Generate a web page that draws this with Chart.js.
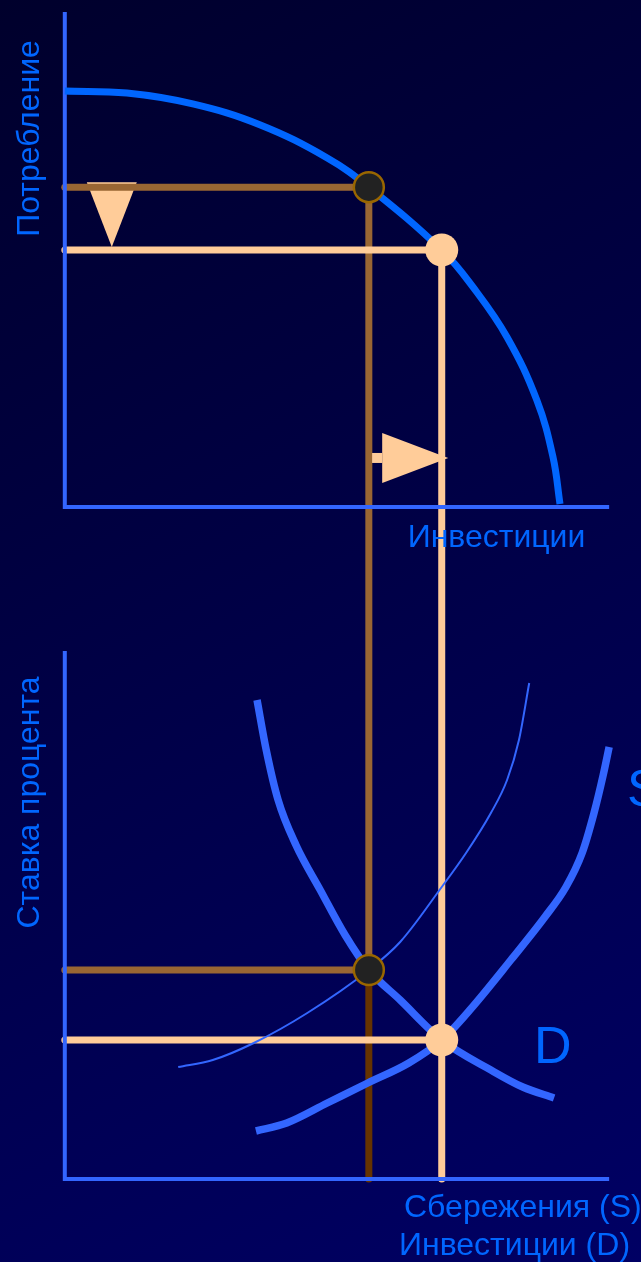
<!DOCTYPE html>
<html>
<head>
<meta charset="utf-8">
<script src="https://cdn.jsdelivr.net/npm/chart.js@4.4.1/dist/chart.umd.min.js"></script>
<style>
  html, body { margin: 0; padding: 0; background: #000040; }
  #wrap { width: 641px; height: 1262px; }
</style>
</head>
<body>
<div id="wrap"><canvas id="chart" width="641" height="1262"></canvas></div>
<script>
// levels: x = investment, top y = consumption, bottom y = interest rate
const investLevels = [5.63, 6.98];
const consumptionLevels = [6.46, 5.19];
const rateLevels = [4.18, 2.78];

// production possibilities curve (top panel)
const ppfX = [0, 1.15, 2.37, 3.61, 4.86, 5.63, 6.98, 7.56, 8.19, 8.74, 9.04, 9.17];
const ppfY = [8.40, 8.36, 8.14, 7.72, 7.05, 6.46, 5.19, 4.44, 3.43, 2.16, 1.01, 0.06];

// investment demand D (bottom panel)
const demandX = [3.56, 3.73, 3.95, 4.28, 4.73, 5.19, 5.63, 6.21, 6.98, 7.89, 8.48, 9.06];
const demandY = [9.58, 8.58, 7.58, 6.68, 5.78, 4.88, 4.18, 3.58, 2.78, 2.18, 1.84, 1.62];

// savings S after the shift
const savingX = [3.54, 4.11, 4.86, 5.61, 6.37, 6.98, 7.50, 8.26, 8.89, 9.28, 9.58, 9.80, 9.97, 10.08];
const savingY = [0.96, 1.12, 1.52, 1.92, 2.32, 2.78, 3.38, 4.38, 5.24, 5.84, 6.52, 7.32, 8.08, 8.64];

// savings before the shift (thin line)
const savingOldX = [2.10, 2.74, 3.50, 4.49, 5.63, 6.21, 6.98, 7.43, 7.89, 8.19, 8.41, 8.60];
const savingOldY = [2.24, 2.38, 2.72, 3.32, 4.18, 4.74, 5.84, 6.52, 7.32, 7.98, 8.78, 9.92];

// axis extents
const topAxisX = [0, 0, 10.08];
const topAxisY = [10.0, 0, 0];
const botAxisX = [0, 0, 10.08];
const botAxisY = [10.56, 0, 0];

// shift arrows: consumption goes down, investment goes up
const consArrow = { x: 0.87, from: 6.56, to: 5.25 };
const investArrow = { y: 0.99, from: 5.69, to: 7.10 };

const BROWN = '#996633';
const DARK_BROWN = '#663300';
const BEIGE = '#FFCC99';
const AXIS = '#3366FF';
const PPF = '#0066FF';
const TEXT = '#0066FF';

const pts = (xs, ys) => xs.map((x, i) => ({ x: x, y: ys[i] }));

function lineSet(data, axis, color, width, order, extra) {
    return Object.assign({
        data: data,
        yAxisID: axis,
        showLine: true,
        borderColor: color,
        borderWidth: width,
        pointRadius: 0,
        fill: false,
        order: order
    }, extra || {});
}

function pointSet(data, axis, fillColor, borderColor, radius, borderWidth) {
    return {
        data: data,
        yAxisID: axis,
        showLine: false,
        pointRadius: radius,
        pointBackgroundColor: fillColor,
        pointBorderColor: borderColor,
        pointBorderWidth: borderWidth,
        order: 1
    };
}

const guideColors = [BROWN, BEIGE];
const datasets = [];

// horizontal guides from the axes to each point
investLevels.forEach((inv, i) => {
    datasets.push(lineSet([{ x: 0, y: consumptionLevels[i] }, { x: inv, y: consumptionLevels[i] }],
        'yTop', guideColors[i], 7, 60, { borderCapStyle: 'round' }));
    datasets.push(lineSet([{ x: 0, y: rateLevels[i] }, { x: inv, y: rateLevels[i] }],
        'yBot', guideColors[i], 7, 60, { borderCapStyle: 'round' }));
});

// axes
datasets.push(lineSet(pts(topAxisX, topAxisY), 'yTop', AXIS, 4, 50, { borderJoinStyle: 'miter' }));
datasets.push(lineSet(pts(botAxisX, botAxisY), 'yBot', AXIS, 4, 50, { borderJoinStyle: 'miter' }));

// curves
const smooth = { tension: 0.4 };
const mono = { cubicInterpolationMode: 'monotone' };
datasets.push(lineSet(pts(ppfX, ppfY), 'yTop', PPF, 7, 40, smooth));
datasets.push(lineSet(pts(savingOldX, savingOldY), 'yBot', AXIS, 2, 40, mono));
datasets.push(lineSet(pts(demandX, demandY), 'yBot', AXIS, 7.5, 40, mono));
datasets.push(lineSet(pts(savingX, savingY), 'yBot', AXIS, 7.5, 40, mono));

// equilibrium points
datasets.push(pointSet([{ x: investLevels[0], y: consumptionLevels[0] }], 'yTop', '#222222', '#996600', 15, 2.5));
datasets.push(pointSet([{ x: investLevels[0], y: rateLevels[0] }], 'yBot', '#222222', '#996600', 15, 2.5));
datasets.push(pointSet([{ x: investLevels[1], y: consumptionLevels[1] }], 'yTop', BEIGE, BEIGE, 16.5, 0));
datasets.push(pointSet([{ x: investLevels[1], y: rateLevels[1] }], 'yBot', BEIGE, BEIGE, 16.5, 0));

function drawArrow(ctx, x1, y1, x2, y2) {
    const headLen = 66, headHalf = 25, shaft = 10;
    const dx = x2 - x1, dy = y2 - y1;
    const len = Math.sqrt(dx * dx + dy * dy);
    const ux = dx / len, uy = dy / len;
    const px = -uy, py = ux;
    const hl = Math.min(headLen, len);
    const bx = x2 - ux * hl, by = y2 - uy * hl;
    ctx.fillStyle = BEIGE;
    if (len > hl) {
        ctx.beginPath();
        ctx.moveTo(x1 + px * shaft / 2, y1 + py * shaft / 2);
        ctx.lineTo(bx + px * shaft / 2, by + py * shaft / 2);
        ctx.lineTo(bx - px * shaft / 2, by - py * shaft / 2);
        ctx.lineTo(x1 - px * shaft / 2, y1 - py * shaft / 2);
        ctx.closePath();
        ctx.fill();
    }
    ctx.beginPath();
    ctx.moveTo(x2, y2);
    ctx.lineTo(bx + px * headHalf, by + py * headHalf);
    ctx.lineTo(bx - px * headHalf, by - py * headHalf);
    ctx.closePath();
    ctx.fill();
}

const diagramPlugin = {
    id: 'diagram',
    beforeDraw(chart) {
        const ctx = chart.ctx;
        const g = ctx.createLinearGradient(0, 0, chart.width, chart.height);
        g.addColorStop(0, '#00002c');
        g.addColorStop(1, '#000064');
        ctx.save();
        ctx.fillStyle = g;
        ctx.fillRect(0, 0, chart.width, chart.height);
        ctx.restore();
    },
    beforeDatasetsDraw(chart) {
        const ctx = chart.ctx;
        const xs = chart.scales.x, yt = chart.scales.yTop, yb = chart.scales.yBot;
        ctx.save();
        ctx.lineWidth = 7;
        ctx.lineCap = 'round';
        // vertical guides run from the top panel down to the bottom axis
        investLevels.forEach((inv, i) => {
            const x = xs.getPixelForValue(inv);
            const yStart = yt.getPixelForValue(consumptionLevels[i]);
            const yMid = yb.getPixelForValue(rateLevels[i]);
            const yEnd = yb.getPixelForValue(0);
            ctx.strokeStyle = guideColors[i];
            ctx.beginPath();
            ctx.moveTo(x, yStart);
            ctx.lineTo(x, yMid);
            ctx.stroke();
            ctx.strokeStyle = i === 0 ? DARK_BROWN : guideColors[i];
            ctx.beginPath();
            ctx.moveTo(x, yMid);
            ctx.lineTo(x, yEnd);
            ctx.stroke();
        });
        drawArrow(ctx, xs.getPixelForValue(consArrow.x), yt.getPixelForValue(consArrow.from),
            xs.getPixelForValue(consArrow.x), yt.getPixelForValue(consArrow.to));
        drawArrow(ctx, xs.getPixelForValue(investArrow.from), yt.getPixelForValue(investArrow.y),
            xs.getPixelForValue(investArrow.to), yt.getPixelForValue(investArrow.y));
        ctx.restore();
    },
    afterDatasetsDraw(chart) {
        const ctx = chart.ctx;
        ctx.save();
        ctx.fillStyle = TEXT;
        ctx.textBaseline = 'alphabetic';
        ctx.font = '32px "Liberation Sans", Arial, sans-serif';

        // rotated axis titles
        [['Потребление', 138.5], ['Ставка процента', 802.5]].forEach(t => {
            ctx.save();
            ctx.translate(39, t[1]);
            ctx.rotate(-Math.PI / 2);
            ctx.textAlign = 'center';
            ctx.fillText(t[0], 0, 0);
            ctx.restore();
        });

        ctx.textAlign = 'center';
        ctx.fillText('Инвестиции', 496.5, 547);
        ctx.textAlign = 'left';
        ctx.fillText('Сбережения (S)', 404, 1217);
        ctx.fillText('Инвестиции (D)', 399, 1255);

        ctx.font = '52px "Liberation Sans", Arial, sans-serif';
        ctx.fillText('D', 534, 1063);
        ctx.fillText('S', 627, 806);
        ctx.restore();
    }
};

new Chart(document.getElementById('chart'), {
    type: 'scatter',
    data: { datasets: datasets },
    options: {
        responsive: false,
        animation: false,
        events: [],
        layout: { padding: 0, autoPadding: false },
        plugins: {
            legend: { display: false },
            tooltip: { enabled: false }
        },
        scales: {
            x: { type: 'linear', bounds: 'data', min: -1.2, max: 10.67, display: false },
            yTop: { type: 'linear', axis: 'y', bounds: 'data', min: -15.25, max: 10.24, display: false },
            yBot: { type: 'linear', axis: 'y', bounds: 'data', min: -1.66, max: 23.58, display: false }
        }
    },
    plugins: [diagramPlugin]
});
</script>
</body>
</html>
